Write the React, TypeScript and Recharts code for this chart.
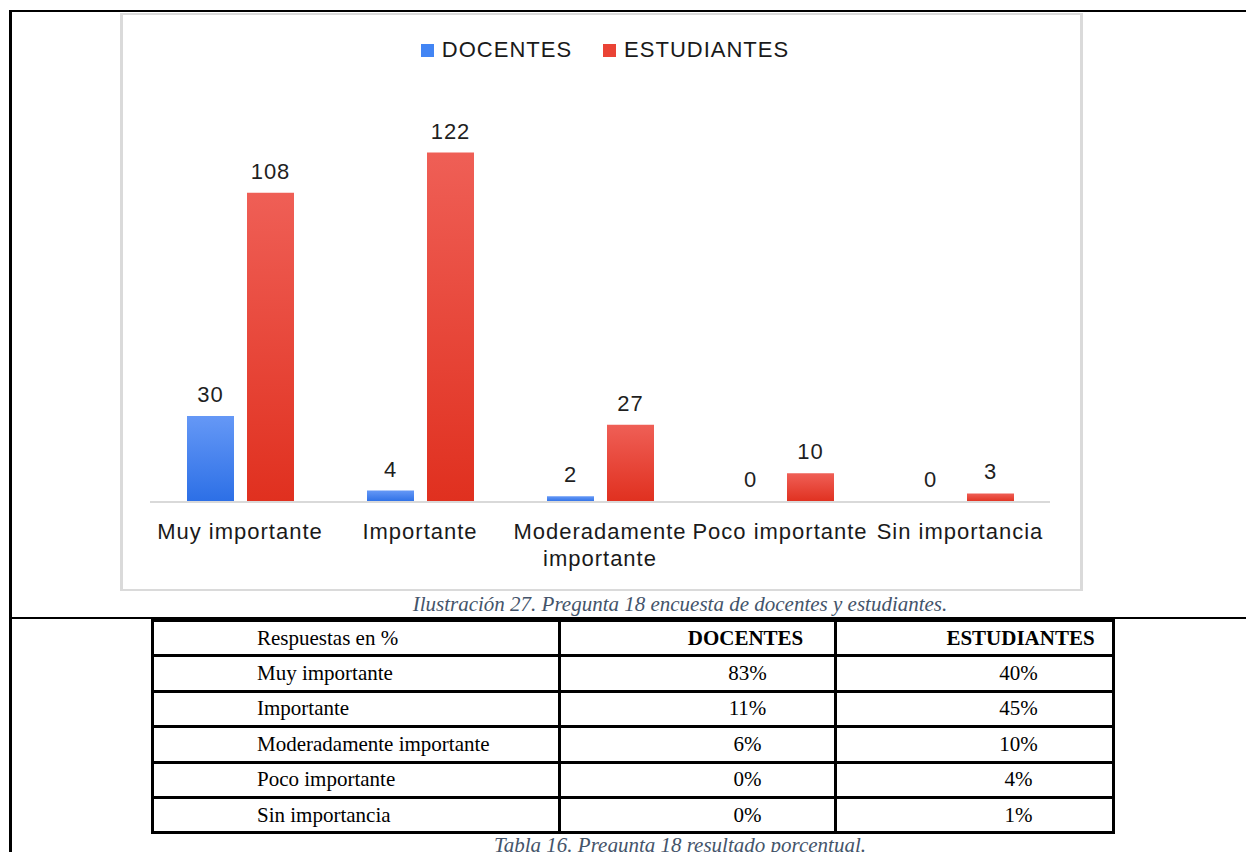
import { Bar, BarChart, Cell, LabelList, Legend, XAxis, YAxis } from "recharts";

const categories = ["Muy importante", "Importante", "Moderadamente importante", "Poco importante", "Sin importancia"];
const docentes = [30, 4, 2, 0, 0];
const estudiantes = [108, 122, 27, 10, 3];
const docentesPct = ["83%", "11%", "6%", "0%", "0%"];
const estudiantesPct = ["40%", "45%", "10%", "4%", "1%"];
const seriesNames = ["DOCENTES", "ESTUDIANTES"];

const data = categories.map((name, i) => ({ name, docentes: docentes[i], estudiantes: estudiantes[i] }));

const SANS = '"Liberation Sans", Arial, sans-serif';
const SERIF = '"Liberation Serif", "Times New Roman", serif';
const legendColors: Record<string, string> = { docentes: "#4285f4", estudiantes: "#ea4335" };

function ChartLegend({ payload }: any) {
  return (
    <div
      style={{
        display: "flex",
        justifyContent: "center",
        alignItems: "center",
        height: 28,
        paddingLeft: 10,
        fontFamily: SANS,
        fontSize: 22,
        letterSpacing: 1,
        color: "#1a1a1a",
      }}
    >
      {(payload || []).map((entry: any, i: number) => (
        <div key={entry.value} style={{ display: "flex", alignItems: "center", marginLeft: i === 0 ? 0 : 31 }}>
          <span style={{ width: 13, height: 13, background: legendColors[entry.dataKey], marginRight: 8 }} />
          <span>{entry.value}</span>
        </div>
      ))}
    </div>
  );
}

// wrap long category names onto two lines, like the original chart
function wrapLabel(label: string, maxChars: number) {
  const lines: string[] = [];
  let cur = "";
  for (const w of label.split(" ")) {
    const next = cur ? cur + " " + w : w;
    if (next.length > maxChars && cur) {
      lines.push(cur);
      cur = w;
    } else {
      cur = next;
    }
  }
  if (cur) lines.push(cur);
  return lines;
}

function CategoryTick({ x, y, payload }: any) {
  const lines = wrapLabel(String(payload.value), 16);
  return (
    <text
      x={x}
      y={y}
      textAnchor="middle"
      fontSize={22}
      fontFamily={SANS}
      fill="#1a1a1a"
      style={{ letterSpacing: 1 }}
    >
      {lines.map((l, i) => (
        <tspan key={i} x={x} dy={i === 0 ? 15.6 : 27}>
          {l}
        </tspan>
      ))}
    </text>
  );
}

const cell = {
  border: "3px solid #000",
  height: 32.4,
  padding: 0,
  fontSize: 21,
  fontFamily: SERIF,
  color: "#000",
};

const caption = {
  position: "absolute" as const,
  left: 330,
  width: 700,
  height: 24,
  lineHeight: "24px",
  textAlign: "center" as const,
  fontFamily: SERIF,
  fontStyle: "italic",
  fontSize: 21,
  color: "#44546a",
  whiteSpace: "nowrap" as const,
};

export default function App() {
  return (
    <div style={{ position: "absolute", left: 0, top: 0, width: 1246, height: 852, overflow: "hidden", background: "#fff" }}>
      <div style={{ position: "absolute", left: 9, top: 10, width: 1237, height: 2, background: "#000" }} />
      <div style={{ position: "absolute", left: 9, top: 10, width: 3, height: 842, background: "#000" }} />
      <div style={{ position: "absolute", left: 9, top: 617, width: 1237, height: 2, background: "#000" }} />

      <div
        style={{
          position: "absolute",
          left: 120,
          top: 13,
          width: 963,
          height: 578,
          boxSizing: "border-box",
          border: "3px solid #dadada",
          borderTopWidth: 2,
          borderBottomWidth: 2,
        }}
      />
      <div style={{ position: "absolute", left: 120, top: 13, width: 963, height: 578 }}>
        <BarChart
          width={963}
          height={578}
          data={data}
          margin={{ top: 48, right: 33, bottom: 0, left: 30 }}
          barCategoryGap="20%"
          barGap={13}
        >
          <defs>
            <linearGradient id="gradDoc" x1="0" y1="0" x2="0" y2="1">
              <stop offset="0%" stopColor="#6598f6" />
              <stop offset="100%" stopColor="#2c6fe6" />
            </linearGradient>
            <linearGradient id="gradEst" x1="0" y1="0" x2="0" y2="1">
              <stop offset="0%" stopColor="#ef5f56" />
              <stop offset="100%" stopColor="#e0301f" />
            </linearGradient>
          </defs>
          <Legend
            verticalAlign="top"
            align="center"
            height={40}
            content={<ChartLegend />}
            wrapperStyle={{ top: 23, left: 30, width: 900 }}
          />
          <XAxis
            dataKey="name"
            height={89}
            tickSize={0}
            tickMargin={21}
            interval={0}
            axisLine={{ stroke: "#d9d9d9", strokeWidth: 2 }}
            tickLine={false}
            tick={<CategoryTick />}
          />
          <YAxis hide domain={[0, 140]} />
          <Bar
            dataKey="docentes"
            name={seriesNames[0]}
            fill="url(#gradDoc)"
            barSize={47}
            minPointSize={1}
            isAnimationActive={false}
          >
            {docentes.map((v, i) => (
              <Cell key={i} fill={v === 0 ? "transparent" : "url(#gradDoc)"} />
            ))}
            <LabelList
              dataKey="docentes"
              position="top"
              offset={14}
              fill="#1f1f1f"
              fontSize={22}
              fontFamily={SANS}
              style={{ letterSpacing: 1 }}
            />
          </Bar>
          <Bar
            dataKey="estudiantes"
            name={seriesNames[1]}
            fill="url(#gradEst)"
            barSize={47}
            minPointSize={1}
            isAnimationActive={false}
          >
            {estudiantes.map((v, i) => (
              <Cell key={i} fill={v === 0 ? "transparent" : "url(#gradEst)"} />
            ))}
            <LabelList
              dataKey="estudiantes"
              position="top"
              offset={14}
              fill="#1f1f1f"
              fontSize={22}
              fontFamily={SANS}
              style={{ letterSpacing: 1 }}
            />
          </Bar>
        </BarChart>
      </div>

      <div style={{ ...caption, top: 592 }}>Ilustración 27. Pregunta 18 encuesta de docentes y estudiantes.</div>

      <table
        style={{
          position: "absolute",
          left: 151,
          top: 619,
          width: 962,
          borderCollapse: "collapse",
          tableLayout: "fixed",
        }}
      >
        <colgroup>
          <col style={{ width: 407 }} />
          <col style={{ width: 276 }} />
          <col style={{ width: 278 }} />
        </colgroup>
        <tbody>
          <tr>
            <td style={{ ...cell, paddingLeft: 103 }}>Respuestas en %</td>
            <td style={{ ...cell, paddingLeft: 96, textAlign: "center", fontWeight: "bold" }}>{seriesNames[0]}</td>
            <td style={{ ...cell, paddingLeft: 92, textAlign: "center", fontWeight: "bold" }}>{seriesNames[1]}</td>
          </tr>
          {categories.map((c, i) => (
            <tr key={c}>
              <td style={{ ...cell, paddingLeft: 103 }}>{c}</td>
              <td style={{ ...cell, paddingLeft: 100, textAlign: "center" }}>{docentesPct[i]}</td>
              <td style={{ ...cell, paddingLeft: 88, textAlign: "center" }}>{estudiantesPct[i]}</td>
            </tr>
          ))}
        </tbody>
      </table>

      <div style={{ ...caption, top: 833 }}>Tabla 16. Pregunta 18 resultado porcentual.</div>
    </div>
  );
}
